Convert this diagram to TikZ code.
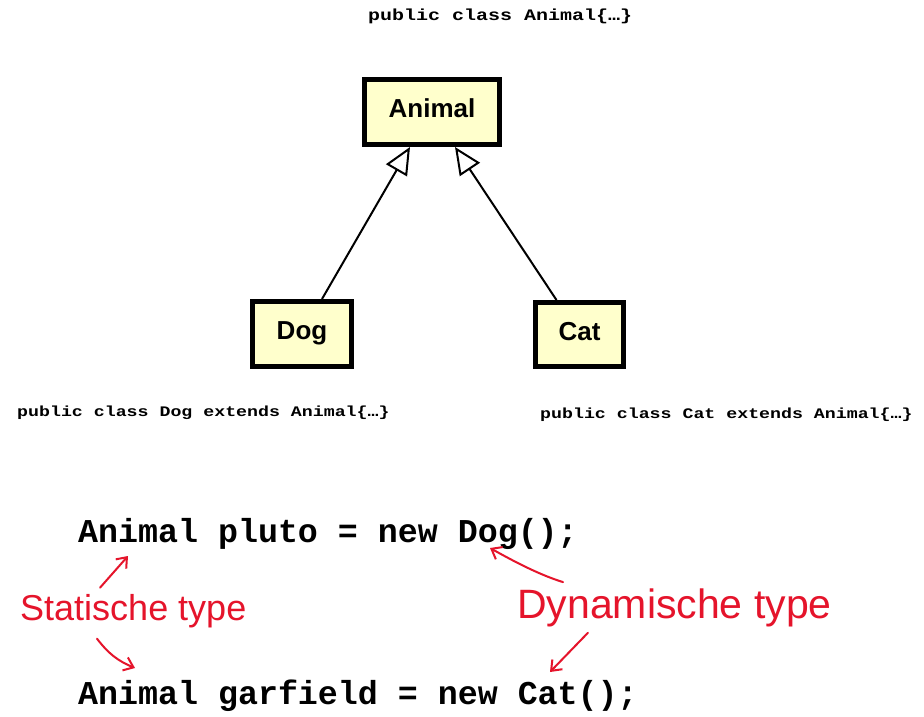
\documentclass[tikz,border=0pt]{standalone}
\usepackage{fontspec}
\setmainfont{Liberation Sans}
\newfontfamily\codefont{Liberation Mono}
\newfontfamily\declfont[FakeStretch=1.25]{Liberation Mono}
\newfontfamily\handfont{Liberation Sans}
\usetikzlibrary{arrows.meta}
\definecolor{umlyellow}{HTML}{FFFFCC}
\definecolor{penred}{HTML}{E5142B}
\begin{document}
\begin{tikzpicture}[x=1pt,y=-1pt,
		classbox/.style={draw,line width=5pt,fill=umlyellow,inner sep=0pt,text height=19pt,text depth=8pt,font=\fontsize{26}{30}\selectfont\bfseries},
		inherit/.style={line width=2pt,-{Triangle[open,length=27pt,width=24pt,fill=white]}},
		decl/.style={anchor=base west,inner sep=0pt,font=\declfont\fontsize{16}{18}\selectfont\bfseries},
		code/.style={anchor=base west,inner sep=0pt,font=\codefont\fontsize{33.3}{36}\selectfont\bfseries},
		hand/.style={anchor=base west,inner sep=0pt,text=penred,font=\handfont\fontsize{36}{40}\selectfont},
		pen/.style={penred,line width=2pt,line cap=round,-{Straight Barb[length=9pt,width=14pt]}}]
		\useasboundingbox[fill=white] (0,0) rectangle (924,717);
		% klassen
		\node[classbox,minimum width=135pt,minimum height=65pt] (animal) at (432,112) {Animal};
		\node[classbox,minimum width=99pt,minimum height=65pt] (dog) at (302,334) {Dog};
		\node[classbox,minimum width=88pt,minimum height=64pt] (cat) at (579.5,334.5) {Cat};
		\draw[inherit] ([xshift=20pt]dog.north) -- ([xshift=-22pt]animal.south);
		\draw[inherit] ([xshift=-23pt]cat.north) -- ([xshift=23pt]animal.south);
		% declaraties
		\node[decl] (declanimal) at (368,21) {public class Animal\{…\}};
		\node[decl,font=\declfont\fontsize{14.6}{17}\selectfont\bfseries] (decldog) at (17,416) {public class Dog extends Animal\{…\}};
		\node[decl,font=\declfont\fontsize{14.6}{17}\selectfont\bfseries] (declcat) at (540,418) {public class Cat extends Animal\{…\}};
		% code
		\node[code] (pluto) at (78,542) {Animal pluto = new Dog();};
		\node[code] (garfield) at (78,704) {Animal garfield = new Cat();};
		\node[hand] (statisch) at (20,620) {Statische type};
		\node[hand,font=\handfont\fontsize{41}{45}\selectfont] (dynamisch) at (517,618) {Dynamische type};
		\coordinate (s1) at (128,556);
		\coordinate (s2) at (135,668);
		\coordinate (d1) at (490,548);
		\coordinate (d2) at (550,672);
		\draw[pen] (statisch.north west) ++(80,-6) -- (s1);
		\draw[pen] (statisch.south west) ++(77,11) to[bend right=15] (s2);
		\draw[pen] (dynamisch.north west) ++(46,-6) .. controls (540,575) and (515,562) .. (d1);
		\draw[pen] (dynamisch.south west) ++(71,6) -- (d2);
	\end{tikzpicture}
\end{document}
